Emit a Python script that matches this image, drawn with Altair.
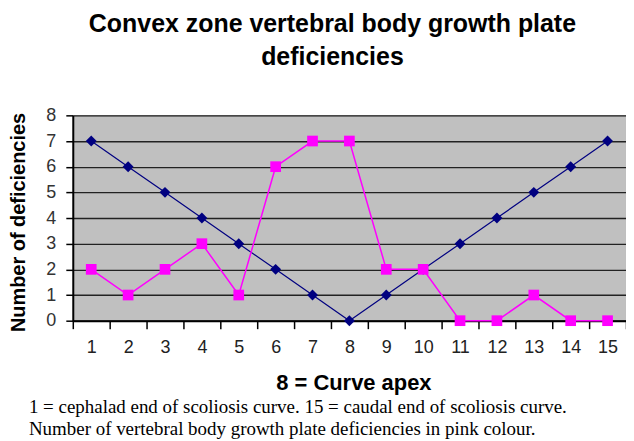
import altair as alt
import pandas as pd

# ---- data ----
vertebra = list(range(1, 16))
convex_zone = [7, 6, 5, 4, 3, 2, 1, 0, 1, 2, 3, 4, 5, 6, 7]
pink_deficiencies = [2, 1, 2, 3, 1, 6, 7, 7, 2, 2, 0, 0, 1, 0, 0]
y_ticks = list(range(0, 9))
x_tick_edges = [v - 0.5 for v in vertebra] + [15.5]

title_lines = ["Convex zone vertebral body growth plate", "deficiencies"]
x_title = "8 = Curve apex"
y_title = "Number of deficiencies"
caption_lines = [
    "1 = cephalad end of scoliosis curve. 15 = caudal end of scoliosis curve.",
    "Number of vertebral body growth plate deficiencies in pink colour.",
]

W, H = 555, 206
band = W / len(vertebra)

df_blue = pd.DataFrame({"v": vertebra, "n": convex_zone})
df_pink = pd.DataFrame({"v": vertebra, "n": pink_deficiencies})

x_enc = alt.X(
    "v:Q",
    scale=alt.Scale(domain=[0.5, 15.5], nice=False, zero=False),
    axis=alt.Axis(
        values=x_tick_edges,
        labelExpr="datum.value < 15 ? format(datum.value + 0.5, 'd') : ''",
        labelOffset=band / 2,
        labelFlush=False,
        labelOverlap=False,
        grid=False,
        tickSize=8,
        tickColor="black",
        tickWidth=1.5,
        domainColor="black",
        domainWidth=2,
        labelFont="Liberation Sans",
        labelFontSize=18,
        labelColor="#222222",
        labelPadding=10,
        title=x_title,
        titleFont="Liberation Sans",
        titleFontSize=22,
        titleFontWeight="bold",
        titleColor="black",
        titleX=W / 2 + 4,
        titleY=62,
        titleBaseline="middle",
        titleAlign="center",
    ),
)

y_enc = alt.Y(
    "n:Q",
    scale=alt.Scale(domain=[0, 8], nice=False),
    axis=alt.Axis(
        values=y_ticks,
        format="d",
        grid=True,
        gridColor="#222222",
        gridWidth=1.3,
        tickSize=7,
        tickColor="black",
        tickWidth=1.5,
        domainColor="black",
        domainWidth=2,
        labelFont="Liberation Sans",
        labelFontSize=18,
        labelColor="#333333",
        labelPadding=10,
        title=y_title,
        titleFont="Liberation Sans",
        titleFontSize=20,
        titleFontWeight="bold",
        titleColor="black",
        titleAngle=270,
        titleX=-54,
        titleY=H / 2 + 4,
        titleBaseline="middle",
        titleAlign="center",
    ),
)

blue_line = alt.Chart(df_blue).mark_line(color="#000080", strokeWidth=1.2).encode(x=x_enc, y=y_enc)
blue_pts = alt.Chart(df_blue).mark_point(
    shape="diamond", filled=True, color="#000080", size=120, opacity=1
).encode(x=x_enc, y=y_enc)
pink_line = alt.Chart(df_pink).mark_line(color="#FF00FF", strokeWidth=1.5).encode(x=x_enc, y=y_enc)
pink_pts = alt.Chart(df_pink).mark_point(
    shape="square", filled=True, color="#FF00FF", size=115, opacity=1
).encode(x=x_enc, y=y_enc)

caption = alt.Chart(pd.DataFrame({"t": ["\n".join(caption_lines)]})).mark_text(
    align="left",
    baseline="middle",
    font="Liberation Serif",
    fontSize=19,
    lineBreak="\n",
    lineHeight=22,
    color="black",
).encode(text="t:N", x=alt.value(-44), y=alt.value(293))

chart = alt.layer(blue_line, blue_pts, pink_line, pink_pts, caption).properties(
    width=W,
    height=H,
    title=alt.TitleParams(
        text=title_lines,
        font="Liberation Sans",
        fontSize=25,
        fontWeight="bold",
        color="black",
        anchor="middle",
        dx=-17,
        offset=36,
        lineHeight=34,
    ),
    autosize=alt.AutoSizeParams(type="none"),
    padding={"left": 65, "top": 107, "right": 0, "bottom": 120},
).configure_view(fill="#C0C0C0", stroke="#999999", strokeWidth=1)

chart.save("out.html", embed_options={"renderer": "svg", "actions": False})
